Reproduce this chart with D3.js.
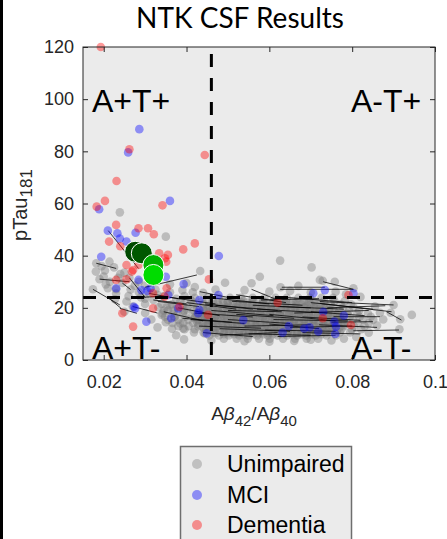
<!DOCTYPE html>
<html><head><meta charset="utf-8">
<script src="https://cdn.jsdelivr.net/npm/d3@7"></script>
<style>body{margin:0;background:#fff;} svg{display:block}</style>
</head><body>
<svg id="chart" width="447" height="539"></svg>
<script>
// ---------- data ----------
const chartTitle = "NTK CSF Results";
const xDomain = [0.015, 0.1];
const yDomain = [0, 120];
const xTicks = [0.02, 0.04, 0.06, 0.08, 0.1];
const xTickLabels = ["0.02", "0.04", "0.06", "0.08", "0.1"];
const yTicks = [0, 20, 40, 60, 80, 100, 120];
const yTickLabels = ["0", "20", "40", "60", "80", "100", "120"];
const abThreshold = 0.046;
const tauThreshold = 24;
const quadrantLabels = ["A+T+", "A-T+", "A+T-", "A-T-"];
const legendLabels = ["Unimpaired", "MCI", "Dementia"];

// Unimpaired: dense cluster, rows of [pTau, [Ab ratio ...]]
const grayCoreRows = [
  [8.2, [.0490,.0521,.0548,.0575,.0601,.0633,.0662,.0690,.0718]],
  [9.4, [.0455,.0478,.0502,.0527,.0549,.0571,.0596,.0620,.0643,.0667,.0689,.0712,.0738,.0761]],
  [10.6,[.0418,.0441,.0465,.0490,.0512,.0534,.0559,.0583,.0606,.0628,.0651,.0676,.0699,.0722,.0746,.0770,.0795]],
  [11.8,[.0395,.0420,.0447,.0470,.0493,.0517,.0540,.0562,.0587,.0611,.0633,.0656,.0680,.0703,.0727,.0751,.0774,.0799,.0822]],
  [13.0,[.0380,.0405,.0428,.0452,.0476,.0500,.0523,.0545,.0569,.0593,.0616,.0639,.0662,.0686,.0709,.0733,.0757,.0780,.0804,.0830]],
  [14.2,[.0366,.0392,.0416,.0440,.0463,.0486,.0509,.0533,.0556,.0578,.0602,.0625,.0648,.0672,.0695,.0719,.0742,.0765,.0789,.0813,.0840]],
  [15.4,[.0355,.0380,.0404,.0428,.0451,.0475,.0498,.0521,.0545,.0567,.0590,.0614,.0637,.0661,.0684,.0707,.0731,.0754,.0778,.0801,.0826,.0851]],
  [16.6,[.0348,.0372,.0397,.0421,.0444,.0468,.0491,.0514,.0537,.0560,.0584,.0607,.0630,.0654,.0677,.0700,.0724,.0747,.0770,.0794,.0818,.0845]],
  [17.8,[.0342,.0366,.0391,.0415,.0438,.0462,.0485,.0508,.0531,.0555,.0578,.0601,.0625,.0648,.0671,.0695,.0718,.0741,.0765,.0788,.0812,.0838]],
  [19.0,[.0345,.0370,.0394,.0418,.0442,.0465,.0489,.0512,.0535,.0559,.0582,.0605,.0629,.0652,.0675,.0699,.0722,.0745,.0769,.0792,.0817]],
  [20.2,[.0352,.0378,.0402,.0426,.0450,.0473,.0497,.0520,.0543,.0567,.0590,.0613,.0637,.0660,.0683,.0707,.0730,.0754,.0778,.0803]],
  [21.4,[.0365,.0392,.0417,.0441,.0465,.0489,.0512,.0536,.0559,.0583,.0606,.0630,.0653,.0677,.0700,.0724,.0748,.0772,.0797]],
  [22.6,[.0385,.0412,.0438,.0463,.0488,.0512,.0537,.0561,.0585,.0610,.0634,.0658,.0683,.0707,.0732,.0757,.0782]],
  [23.8,[.0420,.0450,.0478,.0505,.0532,.0560,.0588,.0615,.0642,.0670,.0698,.0726,.0754]],
  [9.9, [.0490,.0515,.0538,.0561,.0585,.0608,.0632,.0655,.0678,.0701,.0725]],
  [11.1,[.0455,.0480,.0504,.0528,.0551,.0574,.0598,.0622,.0645,.0668,.0692,.0715,.0739,.0763]],
  [12.4,[.0440,.0464,.0488,.0511,.0534,.0558,.0581,.0605,.0628,.0651,.0675,.0698,.0721,.0745,.0769]],
  [13.6,[.0430,.0453,.0477,.0500,.0523,.0547,.0570,.0594,.0617,.0640,.0664,.0687,.0710,.0734,.0757,.0781]],
  [14.8,[.0425,.0449,.0472,.0496,.0519,.0543,.0566,.0589,.0613,.0636,.0659,.0683,.0706,.0730,.0753,.0777]],
  [16.0,[.0420,.0444,.0467,.0491,.0514,.0538,.0561,.0584,.0608,.0631,.0654,.0678,.0701,.0725,.0748,.0772]],
  [17.2,[.0425,.0449,.0472,.0496,.0519,.0543,.0566,.0589,.0613,.0636,.0660,.0683,.0706,.0730,.0753,.0777]],
  [18.4,[.0430,.0454,.0477,.0501,.0524,.0548,.0571,.0594,.0618,.0641,.0665,.0688,.0711,.0735,.0758]],
  [19.6,[.0440,.0463,.0487,.0510,.0534,.0557,.0580,.0604,.0627,.0651,.0674,.0697,.0721,.0744]],
  [20.8,[.0455,.0479,.0502,.0526,.0549,.0573,.0596,.0620,.0643,.0666,.0690,.0713,.0737]],
  [22.0,[.0475,.0499,.0522,.0546,.0570,.0593,.0617,.0640,.0664,.0688,.0712]],
  [10.3,[.0470,.0502,.0526,.0550,.0573,.0597,.0620,.0644,.0667,.0690,.0713,.0736]],
  [12.9,[.0448,.0472,.0495,.0519,.0542,.0566,.0589,.0612,.0636,.0659,.0682,.0706,.0729,.0752]],
  [15.1,[.0437,.0461,.0484,.0508,.0531,.0555,.0578,.0601,.0625,.0648,.0671,.0695,.0718,.0741,.0765]],
  [17.5,[.0437,.0461,.0484,.0508,.0531,.0555,.0578,.0601,.0625,.0648,.0671,.0695,.0718,.0741,.0765]],
  [19.9,[.0452,.0476,.0499,.0523,.0546,.0570,.0593,.0616,.0640,.0663,.0686,.0710,.0733]],
  [22.3,[.0500,.0530,.0558,.0585,.0612,.0640,.0668,.0696]]
];
// Unimpaired: scattered points [Ab ratio, pTau]
const grayScatter = [
  [.0626,38.1],[.0702,35.5],[.0577,31.9],[.0493,29.6],[.0557,29.4],[.0627,27.9],[.0670,28.4],[.0729,30.4],
  [.0758,30.0],[.0803,27.5],[.0722,30.7],[.0433,34.1],[.0650,26.5],[.0600,26.2],[.0540,26.8],[.0470,27.0],
  [.0700,26.0],[.0760,26.2],[.0785,25.2],[.0820,24.2],[.0440,25.8],
  [.0900,21.1],[.0944,17.3],[.0914,11.8],[.0916,15.6],[.0893,18.1],[.0867,18.1],[.0860,13.2],[.0875,15.5],
  [.0855,20.5],[.0840,10.5],[.0810,8.8],[.0780,8.2],
  [.0394,7.9],[.0444,10.2],[.0460,7.5],[.0540,7.2],[.0600,7.0],[.0660,7.3],[.0700,7.8],[.0750,7.5],
  [.0182,37.1],[.0214,37.7],[.0181,33.9],[.0203,34.3],[.0174,27.1],[.0210,27.5],[.0230,27.1],[.0227,23.3],
  [.0255,22.4],[.0332,20.2],[.0340,17.3],[.0392,12.1],[.0239,56.6],[.0350,47.3],[.0195,36.0],[.0225,35.5],
  [.0240,33.0],[.0262,31.5],[.0285,30.0],[.0300,28.5],[.0265,27.0],[.0245,29.5],[.0190,31.0],[.0310,25.5],
  [.0325,27.0],[.0290,24.0],[.0270,20.5],[.0300,21.5],[.0320,23.0],[.0345,24.5],[.0360,26.0],[.0375,23.5],
  [.0360,21.0],[.0380,18.5],[.0300,18.0],[.0315,15.5],[.0250,18.5],[.0330,12.5],[.0365,12.0],[.0375,9.5],
  [.0400,29.5],[.0415,26.0],[.0390,26.8],
  [.0200,32.0],[.0215,30.0],[.0235,31.5],[.0250,33.5],[.0275,28.5],[.0285,26.0],[.0300,23.5],[.0330,25.0],
  [.0340,21.5],[.0355,19.0],[.0370,16.5],[.0350,14.5],[.0385,14.0],[.0400,19.5],[.0410,23.0],[.0260,24.5],
  [.0230,25.5],[.0205,29.0],[.0395,24.5],[.0420,28.0],[.0360,29.0]
];
// MCI [Ab ratio, pTau]
const mciPts = [
  [.0259,79.6],[.0286,88.5],[.0189,57.8],[.0360,61.0],[.0210,49.6],[.0239,46.6],[.0277,48.8],[.0255,45.4],
  [.0233,48.6],[.0194,39.6],[.0230,27.5],[.0291,26.8],[.0305,26.5],[.0313,27.5],[.0284,30.7],[.0350,31.9],
  [.0393,29.1],[.0356,24.9],[.0273,20.4],[.0276,19.8],[.0303,14.7],[.0363,16.0],[.0380,19.8],[.0428,17.9],
  [.0431,23.0],[.0431,19.2],[.0478,39.9],[.0449,10.2],[.0477,24.9],[.0537,15.3],[.0647,13.0],[.0632,10.5],
  [.0684,12.1],[.0697,12.5],[.0718,10.9],[.0730,18.5],[.0706,25.6],[.0734,26.8],[.0803,25.6],[.0780,17.0],
  [.0757,14.7],[.0761,12.8],[.0759,10.0]
];
// Dementia [Ab ratio, pTau]
const dementiaPts = [
  [.0193,120],[.0262,80.8],[.0444,78.6],[.0231,68.6],[.0203,61.0],[.0183,58.8],[.0342,59.3],[.0230,51.8],
  [.0284,50.5],[.0213,45.4],[.0240,43.6],[.0307,50.5],[.0321,48.2],[.0392,42.4],[.0420,44.7],[.0334,40.9],
  [.0355,40.3],[.0348,39.0],[.0351,37.7],[.0284,36.4],[.0255,36.4],[.0268,33.9],[.0255,30.9],[.0230,30.7],
  [.0271,34.5],[.0319,25.6],[.0352,27.5],[.0347,24.3],[.0454,30.9],[.0245,17.9],[.0271,12.8],[.0319,19.8],
  [.0383,20.4],[.0452,17.3],[.0620,22.0],[.0729,16.0],[.0791,24.9],[.0797,13.4]
];
// longitudinal links [Ab1, pTau1, Ab2, pTau2]
const links = [
  [.0432,26.2,.0513,23.6],[.0557,27.1,.0617,23.2],[.0626,27.1,.0803,27.1],[.0630,27.9,.0734,27.9],
  [.0730,30.0,.0803,27.1],[.0722,22.4,.0900,21.1],[.0722,21.7,.0895,18.5],[.0883,18.5,.0919,15.3],
  [.0755,16.6,.0867,16.6],[.0750,14.5,.0850,14.7],[.0803,11.2,.0913,11.5],[.0400,22.0,.0520,19.5],
  [.0380,20.0,.0480,17.0],[.0420,18.0,.0560,16.5],[.0450,24.0,.0600,21.5],[.0470,21.0,.0620,19.0],
  [.0500,15.5,.0650,14.0],[.0430,13.0,.0580,12.2],[.0550,10.0,.0700,9.5],[.0600,17.5,.0760,15.0],
  [.0620,20.5,.0780,19.5],[.0480,12.0,.0650,11.0],[.0360,24.0,.0470,21.5],[.0390,16.0,.0510,14.5],
  [.0650,12.5,.0800,13.0],[.0580,23.0,.0720,23.5],[.0700,18.5,.0830,17.0],[.0520,25.0,.0640,22.0],
  [.0440,10.5,.0560,9.0],[.0680,10.5,.0820,10.0],[.0345,18.5,.0440,15.0],[.0330,22.5,.0430,20.5],
  [.0460,19.0,.0610,17.0],[.0510,22.5,.0680,21.0],[.0540,13.0,.0700,13.5],[.0570,19.5,.0740,18.0],
  [.0590,11.5,.0760,11.0],[.0610,15.5,.0790,15.0],[.0640,24.0,.0800,22.0],[.0520,17.5,.0660,16.0],
  [.0480,9.5,.0620,10.5],[.0660,18.0,.0840,19.0],[.0700,22.0,.0850,19.5],[.0720,13.5,.0860,12.5],
  [.0560,21.0,.0700,20.0],[.0410,15.5,.0540,14.0],[.0445,21.5,.0560,19.5],[.0600,13.8,.0720,12.0],
  [.0680,16.5,.0820,15.2],[.0500,19.0,.0630,18.5],[.0740,20.0,.0880,20.8],[.0620,9.0,.0760,9.5],
  [.0211,49.6,.0284,35.1],[.0182,37.1,.0230,35.1],[.0174,27.1,.0239,21.1],[.0218,23.0,.0242,19.8],
  [.0300,27.9,.0425,32.6],[.0239,19.8,.0280,17.9],[.0190,31.0,.0262,30.0],[.0245,29.5,.0265,27.0],
  [.0262,31.5,.0300,24.0],[.0290,24.0,.0345,24.5],[.0270,20.5,.0330,18.0],[.0310,25.5,.0380,23.5],
  [.0320,23.0,.0400,21.5]
];
// group means [Ab ratio, pTau]
const meanPts = [[.0276,41.5],[.0292,40.9],[.0320,36.4],[.0320,32.6]];

// ---------- drawing ----------
const W = 447, H = 539;
const plot = {left: 83, right: 435, top: 47, bottom: 360};
const svg = d3.select("#chart");
const x = d3.scaleLinear().domain(xDomain).range([plot.left, plot.right]);
const y = d3.scaleLinear().domain(yDomain).range([plot.bottom, plot.top]);
const FONT = "'Liberation Sans', Arial, sans-serif";

svg.append("rect").attr("x", 0).attr("y", 0).attr("width", 3).attr("height", H).attr("fill", "#000");

svg.append("rect").attr("x", plot.left).attr("y", plot.top)
  .attr("width", plot.right - plot.left).attr("height", plot.bottom - plot.top).attr("fill", "#ebebeb");

const grayPts = grayCoreRows.flatMap(([py, xs]) => xs.map(px => [px, py])).concat(grayScatter);
const R = 4.3;
const g = svg.append("g");
g.selectAll("circle.gray").data(grayPts).join("circle").attr("class", "gray")
  .attr("cx", d => x(d[0])).attr("cy", d => y(d[1])).attr("r", R)
  .attr("fill", "#7c7c7c").attr("fill-opacity", 0.42);
g.selectAll("line.link").data(links).join("line").attr("class", "link")
  .attr("x1", d => x(d[0])).attr("y1", d => y(d[1])).attr("x2", d => x(d[2])).attr("y2", d => y(d[3]))
  .attr("stroke", "#000").attr("stroke-width", 0.9).attr("stroke-opacity", 0.85);
g.selectAll("circle.mci").data(mciPts).join("circle").attr("class", "mci")
  .attr("cx", d => x(d[0])).attr("cy", d => y(d[1])).attr("r", R)
  .attr("fill", "#0000ff").attr("fill-opacity", 0.4);
g.selectAll("circle.dem").data(dementiaPts).join("circle").attr("class", "dem")
  .attr("cx", d => x(d[0])).attr("cy", d => y(d[1])).attr("r", R)
  .attr("fill", "#ff0000").attr("fill-opacity", 0.4);

// thresholds
svg.append("line").attr("x1", x(abThreshold)).attr("x2", x(abThreshold))
  .attr("y1", y(yDomain[1])).attr("y2", y(yDomain[0]))
  .attr("stroke", "#000").attr("stroke-width", 3).attr("stroke-dasharray", "13,11").attr("stroke-dashoffset", 17);
svg.append("line").attr("x1", x(xDomain[0])).attr("x2", x(xDomain[1]))
  .attr("y1", y(tauThreshold)).attr("y2", y(tauThreshold))
  .attr("stroke", "#000").attr("stroke-width", 3).attr("stroke-dasharray", "13,11");

// means
const meanColors = ["#004a00", "#005800", "#00b000", "#00dc00"];
svg.selectAll("circle.mean").data(meanPts).join("circle").attr("class", "mean")
  .attr("cx", d => x(d[0])).attr("cy", d => y(d[1])).attr("r", 10.5)
  .attr("fill", (d, i) => meanColors[i]).attr("stroke", "#fff").attr("stroke-width", 1);

// axes
function styleAxis(sel) {
  sel.attr("font-family", FONT).attr("font-size", 18).attr("color", "#262626");
  sel.select(".domain").remove();
  sel.selectAll("text").attr("fill", "#262626");
}
svg.append("g").attr("transform", `translate(0,${plot.bottom})`)
  .call(d3.axisBottom(x).tickValues(xTicks).tickFormat((d, i) => xTickLabels[i]).tickSizeInner(-5).tickSizeOuter(0).tickPadding(15))
  .call(styleAxis);
svg.append("g").attr("transform", `translate(0,${plot.top})`)
  .call(d3.axisTop(x).tickValues(xTicks).tickFormat("").tickSizeInner(-5).tickSizeOuter(0))
  .call(styleAxis);
svg.append("g").attr("transform", `translate(${plot.left},0)`)
  .call(d3.axisLeft(y).tickValues(yTicks).tickFormat((d, i) => yTickLabels[i]).tickSizeInner(-5).tickSizeOuter(0).tickPadding(9))
  .call(styleAxis);
svg.append("g").attr("transform", `translate(${plot.right},0)`)
  .call(d3.axisRight(y).tickValues(yTicks).tickFormat("").tickSizeInner(-5).tickSizeOuter(0))
  .call(styleAxis);

svg.append("rect").attr("x", plot.left).attr("y", plot.top)
  .attr("width", plot.right - plot.left).attr("height", plot.bottom - plot.top)
  .attr("fill", "none").attr("stroke", "#262626").attr("stroke-width", 1);

// quadrant labels
const qPos = [[92, 112], [351, 112], [92, 359], [351, 359]];
svg.selectAll("text.quad").data(quadrantLabels).join("text").attr("class", "quad")
  .attr("x", (d, i) => qPos[i][0]).attr("y", (d, i) => qPos[i][1])
  .attr("font-family", FONT).attr("font-size", 32).attr("fill", "#000").text(d => d);

// title
svg.append("text").attr("x", 240).attr("y", 28).attr("text-anchor", "middle")
  .attr("font-family", "Lato, 'Open Sans', sans-serif").attr("font-size", 28).attr("fill", "#000").text(chartTitle);

// y label
const yl = svg.append("text").attr("transform", "translate(27,205) rotate(-90)").attr("text-anchor", "middle")
  .attr("font-family", FONT).attr("font-size", 20).attr("fill", "#262626");
yl.append("tspan").text("pTau");
yl.append("tspan").attr("font-size", 17).attr("dy", 5).text("181");

// x label
const xl = svg.append("text").attr("x", 254).attr("y", 420).attr("text-anchor", "middle")
  .attr("font-family", FONT).attr("font-size", 19).attr("fill", "#262626");
xl.append("tspan").text("A");
xl.append("tspan").attr("font-style", "italic").text("β");
xl.append("tspan").attr("font-size", 15).attr("dy", 6).text("42");
xl.append("tspan").attr("dy", -6).text("/A");
xl.append("tspan").attr("font-style", "italic").text("β");
xl.append("tspan").attr("font-size", 15).attr("dy", 6).text("40");

// legend
const lg = svg.append("g");
lg.append("rect").attr("x", 180.5).attr("y", 446.5).attr("width", 171).attr("height", 110)
  .attr("fill", "#ebebeb").attr("stroke", "#6e6e6e").attr("stroke-width", 1.5);
const legColors = ["#808080", "#0000ff", "#ff0000"];
const legY = [464, 495, 525];
lg.selectAll("circle").data(legendLabels).join("circle")
  .attr("cx", 197).attr("cy", (d, i) => legY[i]).attr("r", 5)
  .attr("fill", (d, i) => legColors[i]).attr("fill-opacity", 0.4);
lg.selectAll("text").data(legendLabels).join("text")
  .attr("x", 227).attr("y", (d, i) => legY[i] + 8)
  .attr("font-family", FONT).attr("font-size", 23).attr("fill", "#000").text(d => d);
</script></body></html>
